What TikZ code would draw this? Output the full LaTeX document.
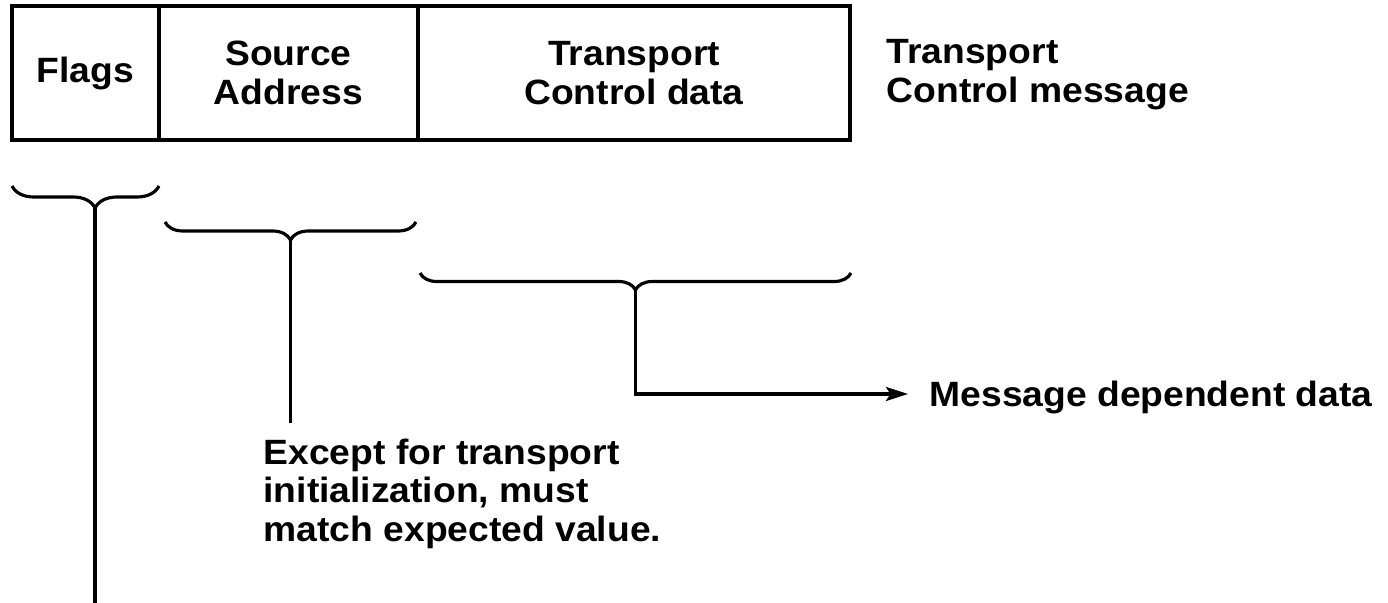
\documentclass[tikz,border=0pt]{standalone}
\usepackage{fontspec}
\setmainfont[FakeStretch=1.06]{Liberation Sans}
\usetikzlibrary{arrows.meta,decorations.pathreplacing,positioning}

\begin{document}
\begin{tikzpicture}[x=0.2mm, y=-0.2mm, line width=1.8pt,
        font=\fontsize{20}{22}\selectfont\bfseries,
        cell/.style={draw, outer sep=0pt, inner sep=0pt, minimum height=26.8mm, align=center, anchor=north west},
        brc/.style={decorate, decoration={brace, mirror, amplitude=#1}},
        lbl/.style={align=left, inner sep=0pt}]
        \useasboundingbox (0,0) rectangle (1388,603);

        % message header
        \node[cell, minimum width=29.4mm] (flags) at (12,6) {Flags};
        \node[cell, minimum width=51.8mm] (src) at (flags.north east) {Source\\Address};
        \node[cell, minimum width=86.4mm] (tcd) at (src.north east) {Transport\\Control data};
        \node[lbl, anchor=north west] (tcm) at (885,38) {Transport\\Control message};

        % braces under the fields
        \draw[brc=4.4mm, decoration={aspect=0.565}] (12,186) -- (159,186);
        \draw[brc=3.6mm] (165,222) -- (416,222);
        \draw[brc=3.4mm] (420,273) -- (851,273);

        \coordinate (flagtip) at (95,208);
        \coordinate (flagend) at (95,603);
        \coordinate (srctip) at (290.5,240);
        \coordinate (tcdtip) at (635.5,290);

        \node[lbl, anchor=north west] (except) at (262,437) {Except for transport\\initialization, must\\match expected value.};
        \node[lbl, anchor=west, inner xsep=4mm, text height=14pt, text depth=0pt] (msg) at (908,394) {Message dependent data};

        \draw (flagtip) -- (flagend);
        \draw (srctip) -- ([yshift=2.8mm]srctip |- except.north);
        \draw[-{Stealth[length=4.4mm, width=2.8mm, inset=0.9mm]}] (tcdtip) |- (msg.west);
    \end{tikzpicture}
\end{document}
